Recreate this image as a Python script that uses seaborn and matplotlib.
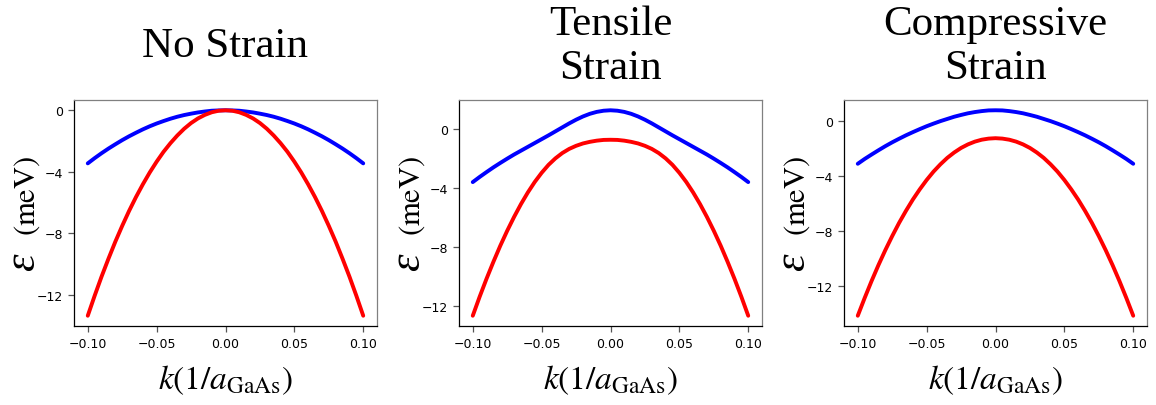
import numpy as np
import pandas as pd
import matplotlib
matplotlib.use("Agg")
import matplotlib.pyplot as plt
import seaborn as sns

# ---------------- data ----------------
k = [-0.100, -0.095, -0.090, -0.085, -0.080, -0.075, -0.070, -0.065, -0.060, -0.055,
     -0.050, -0.045, -0.040, -0.035, -0.030, -0.025, -0.020, -0.015, -0.010, -0.005,
     0.000, 0.005, 0.010, 0.015, 0.020, 0.025, 0.030, 0.035, 0.040, 0.045,
     0.050, 0.055, 0.060, 0.065, 0.070, 0.075, 0.080, 0.085, 0.090, 0.095, 0.100]

titles = ["No Strain", "Tensile\nStrain", "Compressive\nStrain"]

# No strain
blue_none = [-3.45, -3.11, -2.79, -2.49, -2.21, -1.94, -1.69, -1.46, -1.24, -1.04,
             -0.86, -0.70, -0.55, -0.42, -0.31, -0.22, -0.14, -0.08, -0.03, -0.01,
             0.00, -0.01, -0.03, -0.08, -0.14, -0.22, -0.31, -0.42, -0.55, -0.70,
             -0.86, -1.04, -1.24, -1.46, -1.69, -1.94, -2.21, -2.49, -2.79, -3.11, -3.45]
red_none = [-13.35, -12.05, -10.81, -9.65, -8.54, -7.51, -6.54, -5.64, -4.81, -4.04,
            -3.34, -2.70, -2.14, -1.64, -1.20, -0.83, -0.53, -0.30, -0.13, -0.03,
            0.00, -0.03, -0.13, -0.30, -0.53, -0.83, -1.20, -1.64, -2.14, -2.70,
            -3.34, -4.04, -4.81, -5.64, -6.54, -7.51, -8.54, -9.65, -10.81, -12.05, -13.35]

# Tensile strain
blue_tens = [-3.61, -3.26, -2.93, -2.61, -2.31, -2.02, -1.74, -1.48, -1.22, -0.96,
             -0.70, -0.44, -0.17, 0.10, 0.37, 0.62, 0.84, 1.02, 1.15, 1.23,
             1.26, 1.23, 1.15, 1.02, 0.84, 0.62, 0.37, 0.10, -0.17, -0.44,
             -0.70, -0.96, -1.22, -1.48, -1.74, -2.02, -2.31, -2.61, -2.93, -3.26, -3.61]
red_tens = [-12.67, -11.38, -10.16, -9.01, -7.92, -6.91, -5.97, -5.10, -4.31, -3.60,
            -2.98, -2.44, -2.00, -1.64, -1.36, -1.15, -0.99, -0.88, -0.80, -0.75,
            -0.74, -0.75, -0.80, -0.88, -0.99, -1.15, -1.36, -1.64, -2.00, -2.44,
            -2.98, -3.60, -4.31, -5.10, -5.97, -6.91, -7.92, -9.01, -10.16, -11.38, -12.67]

# Compressive strain
blue_comp = [-3.14, -2.79, -2.47, -2.16, -1.86, -1.58, -1.32, -1.07, -0.84, -0.62,
             -0.41, -0.22, -0.04, 0.12, 0.28, 0.41, 0.53, 0.62, 0.69, 0.74,
             0.75, 0.74, 0.69, 0.62, 0.53, 0.41, 0.28, 0.12, -0.04, -0.22,
             -0.41, -0.62, -0.84, -1.07, -1.32, -1.58, -1.86, -2.16, -2.47, -2.79, -3.14]
red_comp = [-14.19, -12.90, -11.67, -10.51, -9.42, -8.40, -7.44, -6.56, -5.74, -5.00,
            -4.32, -3.71, -3.18, -2.71, -2.32, -1.99, -1.73, -1.53, -1.39, -1.31,
            -1.28, -1.31, -1.39, -1.53, -1.73, -1.99, -2.32, -2.71, -3.18, -3.71,
            -4.32, -5.00, -5.74, -6.56, -7.44, -8.40, -9.42, -10.51, -11.67, -12.90, -14.19]

x_ticks = [-0.10, -0.05, 0.00, 0.05, 0.10]
y_ticks = [-12, -8, -4, 0]

panels = [(blue_none, red_none), (blue_tens, red_tens), (blue_comp, red_comp)]

# ---------------- style ----------------
sns.set_style("white")
plt.rcParams["font.family"] = ["DejaVu Sans"]
plt.rcParams["mathtext.fontset"] = "stix"
plt.rcParams["text.color"] = "black"
plt.rcParams["xtick.color"] = "black"
plt.rcParams["ytick.color"] = "black"

W, H = 1156, 406
fig = plt.figure(figsize=(W / 100, H / 100), dpi=100)

lefts = [74, 459, 844]
ax_w, ax_top, ax_bot = 303, 101, 327

def fx(px):
    return px / W

def fy(py):
    return 1 - py / H

for i, (blue, red) in enumerate(panels):
    L = lefts[i]
    ax = fig.add_axes([fx(L), fy(ax_bot), ax_w / W, (ax_bot - ax_top) / H])
    df = pd.DataFrame({"k": k, "upper": blue, "lower": red})
    sns.lineplot(data=df, x="k", y="upper", color="#0000ff", lw=2.8, ax=ax)
    sns.lineplot(data=df, x="k", y="lower", color="#ff0000", lw=2.8, ax=ax)
    ax.set_xticks(x_ticks)
    ax.set_yticks(y_ticks)
    ax.set_xlabel("")
    ax.set_ylabel("")
    ax.tick_params(axis="both", which="major", direction="out", length=4.5,
                   width=0.9, color="#555555", labelsize=9, labelcolor="black",
                   bottom=True, left=True)
    for side in ["left", "bottom"]:
        ax.spines[side].set_color("black")
        ax.spines[side].set_linewidth(0.9)
    for side in ["top", "right"]:
        ax.spines[side].set_color("#808080")
        ax.spines[side].set_linewidth(0.9)
    ax.grid(False)

    cx = L + ax_w / 2
    # title
    fig.text(fx(cx), fy(47), titles[i], ha="center", va="center", color="black",
             fontsize=31, family="Liberation Serif", linespacing=1.2)
    # x label
    fig.text(fx(cx), fy(380), r"$k(1/a_{\mathrm{GaAs}})$", ha="center", va="center",
             fontsize=24, color="black")
    # y label
    fig.text(fx(L - 51), fy(262), "ε", ha="center", va="center", color="black",
             fontsize=32, rotation=90, family="Liberation Serif", style="italic")
    fig.text(fx(L - 47), fy(196), r"$(\mathrm{meV})$", ha="center", va="center",
             fontsize=22, rotation=90, color="black")

fig.savefig("out.png", dpi=100)
